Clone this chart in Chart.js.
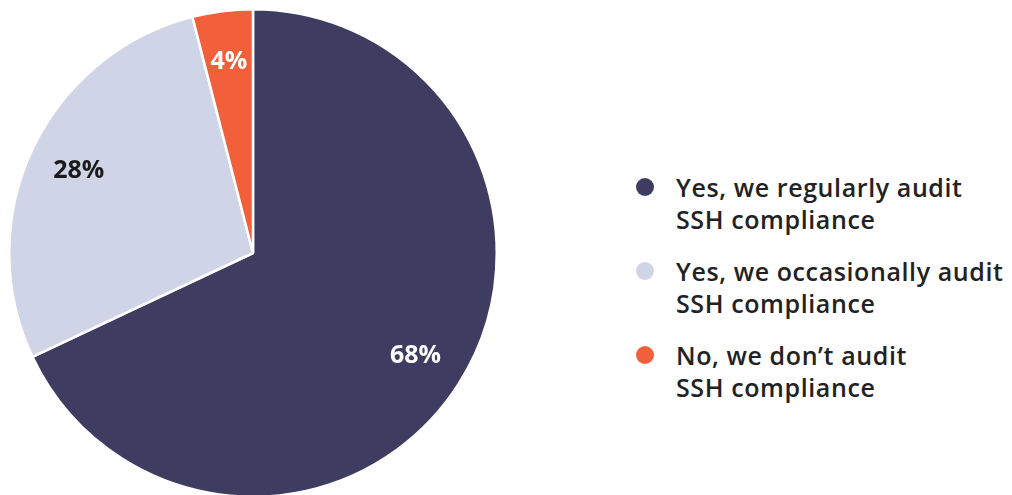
<!DOCTYPE html>
<html>
<head>
<meta charset="utf-8">
<script src="https://cdn.jsdelivr.net/npm/chart.js@4"></script>
<style>
  html, body { margin: 0; padding: 0; background: #fff; }
  #wrap { position: relative; width: 1012px; height: 495px; overflow: hidden; }
  #pieBox { position: absolute; left: 0; top: 0; width: 506px; height: 498px; }
  #legend { position: absolute; left: 636px; top: 171px; margin: 0; padding: 0; list-style: none;
    font-family: "Open Sans", sans-serif; font-weight: 600; font-size: 25px; line-height: 32px;
    letter-spacing: 0.6px; color: #222; }
  #legend li { position: relative; padding-left: 40px; margin-bottom: 20px; }
  #legend .dot { position: absolute; left: 0; top: 7px; width: 18px; height: 18px; border-radius: 50%; }
</style>
</head>
<body>
<div id="wrap">
  <div id="pieBox"><canvas id="pie"></canvas></div>
  <ul id="legend"></ul>
</div>
<script>
// answers, one line per array entry
var answers = [
  ["Yes, we regularly audit", "SSH compliance"],
  ["Yes, we occasionally audit", "SSH compliance"],
  ["No, we don\u2019t audit", "SSH compliance"]
];
var shares = [68, 28, 4];
var sliceColors = ["#3e3d61", "#cfd5e6", "#f1603b"];
var valueColors = ["#ffffff", "#1a1a1a", "#ffffff"];

// percent labels inside each slice
var sliceLabels = {
  id: "sliceLabels",
  afterDatasetsDraw: function (chart) {
    var ctx = chart.ctx;
    var meta = chart.getDatasetMeta(0);
    ctx.save();
    ctx.font = "bold 25px 'Open Sans', sans-serif";
    ctx.textAlign = "center";
    ctx.textBaseline = "middle";
    meta.data.forEach(function (arc, i) {
      var mid = (arc.startAngle + arc.endAngle) / 2;
      var r = arc.outerRadius * 0.79;
      ctx.fillStyle = valueColors[i];
      ctx.fillText(shares[i] + "%", arc.x + Math.cos(mid) * r, arc.y + Math.sin(mid) * r);
    });
    ctx.restore();
  }
};

var ctx = document.getElementById("pie").getContext("2d");
var pieChart = new Chart(ctx, {
  type: "pie",
  data: {
    labels: answers.map(function (a) { return a.join(" "); }),
    datasets: [{
      data: shares,
      backgroundColor: sliceColors,
      borderColor: "#ffffff",
      borderWidth: 2.5
    }]
  },
  options: {
    responsive: true,
    maintainAspectRatio: false,
    animation: false,
    layout: { padding: { top: 8, left: 7, right: 7, bottom: 0 } },
    plugins: {
      legend: { display: false },
      tooltip: { enabled: false }
    }
  },
  plugins: [sliceLabels]
});

// legend on the right, two lines per entry
var list = document.getElementById("legend");
answers.forEach(function (lines, i) {
  var li = document.createElement("li");
  var dot = document.createElement("span");
  dot.className = "dot";
  dot.style.background = sliceColors[i];
  li.appendChild(dot);
  lines.forEach(function (t, j) {
    if (j > 0) li.appendChild(document.createElement("br"));
    li.appendChild(document.createTextNode(t));
  });
  list.appendChild(li);
});
</script>
</body>
</html>
